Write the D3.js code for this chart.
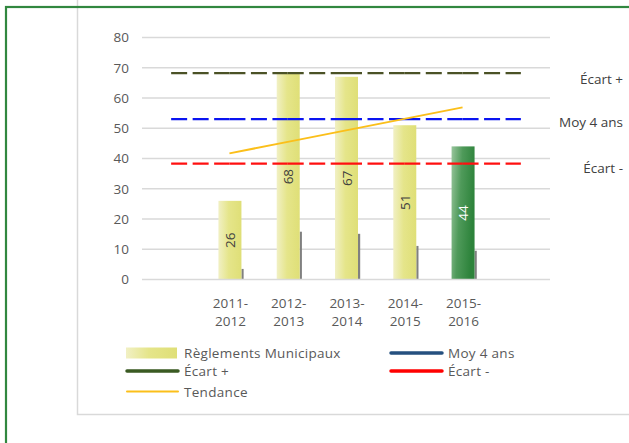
<!DOCTYPE html>
<html>
<head>
<meta charset="utf-8">
<script src="https://cdn.jsdelivr.net/npm/d3@7"></script>
<style>
  html, body { margin: 0; padding: 0; background: #fff; }
  svg { display: block; font-family: "Open Sans", sans-serif; }
</style>
</head>
<body>
<svg id="chart" width="629" height="443"></svg>
<script>
// ---- data ----
const categories = ["", "2011-2012", "2012-2013", "2013-2014", "2014-2015", "2015-2016", " "];
const barCategories = ["2011-2012", "2012-2013", "2013-2014", "2014-2015", "2015-2016"];
const reglements = [26, 68, 67, 51, 44];
const shadowValues = [3.5, 15.8, 15.1, 11.1, 9.5];
const ecartPlus = [68.2, 68.2, 68.2, 68.2, 68.2, 68.2, 68.2];
const moy4ans = [53, 53, 53, 53, 53, 53, 53];
const ecartMoins = [38.3, 38.3, 38.3, 38.3, 38.3, 38.3, 38.3];
const tendance = [41.7, 45.5, 49.3, 53.1, 56.9];
const yTicks = [0, 10, 20, 30, 40, 50, 60, 70, 80];
const legendLabels = ["Règlements Municipaux", "Moy 4 ans", "Écart +", "Écart -", "Tendance"];
const sideLabels = ["Écart +", "Moy 4 ans", "Écart -"];

const svg = d3.select("#chart");

// frames
svg.append("rect").attr("x", 77.5).attr("y", -5).attr("width", 600).attr("height", 419.5)
  .attr("fill", "#fff").attr("stroke", "#d9d9d9").attr("stroke-width", 1.5);
svg.append("rect").attr("x", 6).attr("y", 7).attr("width", 640).attr("height", 460)
  .attr("fill", "none").attr("stroke", "#31873f").attr("stroke-width", 2.2);

const x = d3.scaleBand().domain(categories).range([142, 550]).padding(0);
const xc = c => x(c) + x.bandwidth() / 2;
const y = d3.scaleLinear().domain([0, 80]).range([279.5, 37.5]);

// gridlines
svg.append("g").selectAll("line").data(yTicks.filter(t => t > 0)).join("line")
  .attr("x1", 142).attr("x2", 550)
  .attr("y1", d => y(d)).attr("y2", d => y(d))
  .attr("stroke", "#d9d9d9").attr("stroke-width", 1.5);

// y axis labels
const yAxis = d3.axisLeft(y).tickValues(yTicks).tickSize(0).tickPadding(0);
const ga = svg.append("g").attr("transform", "translate(129,0)").call(yAxis);
ga.select(".domain").remove();
ga.selectAll("text").attr("font-family", "Open Sans").attr("font-size", 13.5).attr("fill", "#595959");

// gradients
const defs = svg.append("defs");
const gy = defs.append("linearGradient").attr("id", "gYellow").attr("x1", 0).attr("x2", 1).attr("y1", 0).attr("y2", 0);
gy.append("stop").attr("offset", "0%").attr("stop-color", "#f1f0c4");
gy.append("stop").attr("offset", "45%").attr("stop-color", "#e5e58a");
gy.append("stop").attr("offset", "100%").attr("stop-color", "#dfdf77");
const gg = defs.append("linearGradient").attr("id", "gGreen").attr("x1", 0).attr("x2", 1).attr("y1", 0).attr("y2", 0.3);
gg.append("stop").attr("offset", "0%").attr("stop-color", "#98c59c");
gg.append("stop").attr("offset", "45%").attr("stop-color", "#4f9a5a");
gg.append("stop").attr("offset", "100%").attr("stop-color", "#2d833b");

const barW = 23;
const barOffset = -11;

// shadow (gray) thin bars
svg.append("g").selectAll("rect").data(shadowValues).join("rect")
  .attr("x", (d, i) => xc(barCategories[i]) + barOffset + barW)
  .attr("y", d => y(d))
  .attr("width", 2.2)
  .attr("height", d => y(0) - y(d))
  .attr("fill", "#808080");

// main bars
svg.append("g").selectAll("rect").data(reglements).join("rect")
  .attr("x", (d, i) => xc(barCategories[i]) + barOffset)
  .attr("y", d => y(d))
  .attr("width", barW)
  .attr("height", d => y(0) - y(d))
  .attr("fill", (d, i) => i === reglements.length - 1 ? "url(#gGreen)" : "url(#gYellow)");

// axis baseline
svg.append("line").attr("x1", 142).attr("x2", 550).attr("y1", y(0)).attr("y2", y(0))
  .attr("stroke", "#d9d9d9").attr("stroke-width", 1.5);

// bar value labels
svg.append("g").selectAll("text").data(reglements).join("text")
  .attr("transform", (d, i) => `translate(${xc(barCategories[i]) + barOffset + barW / 2},${(y(d) + y(0)) / 2}) rotate(-90)`)
  .attr("text-anchor", "middle").attr("dominant-baseline", "central")
  .attr("font-size", 13.5)
  .attr("fill", (d, i) => i === reglements.length - 1 ? "#ffffff" : "#404040")
  .text(d => d);

// x labels
const xl = svg.append("g").selectAll("text").data(barCategories).join("text")
  .attr("text-anchor", "middle").attr("font-size", 13.5).attr("fill", "#595959");
xl.append("tspan").attr("x", d => xc(d) + 1).attr("y", 308).text(d => d.split("-")[0] + "-");
xl.append("tspan").attr("x", d => xc(d) + 1).attr("y", 326).text(d => d.split("-")[1]);

// dashed reference lines (dash pattern restarts at each point, like Excel)
function dashedSeries(vals, color) {
  const pts = vals.map((v, i) => [xc(categories[i]), y(v)]);
  const segs = d3.pairs(pts);
  svg.append("g").selectAll("path").data(segs).join("path")
    .attr("d", d => d3.line()(d))
    .attr("fill", "none").attr("stroke", color).attr("stroke-width", 2.2)
    .attr("stroke-dasharray", "16,5.5");
}
dashedSeries(ecartPlus, "#4b5226");
dashedSeries(moy4ans, "#0a14f0");
dashedSeries(ecartMoins, "#ff1010");

// trend line
svg.append("path")
  .datum(tendance)
  .attr("d", d3.line().x((d, i) => xc(barCategories[i])).y(d => y(d)))
  .attr("fill", "none").attr("stroke", "#fbbf1a").attr("stroke-width", 2);

// side labels
const sideVals = [ecartPlus[6], moy4ans[6], ecartMoins[6]];
const sideDy = [6, 3, 4];
svg.append("g").selectAll("text").data(sideLabels).join("text")
  .attr("x", 623).attr("y", (d, i) => y(sideVals[i]) + sideDy[i])
  .attr("text-anchor", "end").attr("dominant-baseline", "central")
  .attr("font-size", 13.5).attr("fill", "#404040")
  .text(d => d);

// legend
const lg = svg.append("g");
const lgY = [353, 353, 371, 371, 391.5];
const lgX = [126, 390, 126, 390, 126];
const lgColor = [null, "#25507f", "#3a5a22", "#ff0000", "#fbbf1a"];
legendLabels.forEach((lab, i) => {
  if (i === 0) {
    lg.append("rect").attr("x", lgX[i]).attr("y", lgY[i] - 5.5).attr("width", 51).attr("height", 11)
      .attr("fill", "url(#gYellow)");
  } else {
    lg.append("line").attr("x1", lgX[i] + 1).attr("x2", lgX[i] + 52).attr("y1", lgY[i]).attr("y2", lgY[i])
      .attr("stroke", lgColor[i]).attr("stroke-width", i === 4 ? 2 : 3.5).attr("stroke-linecap", "round");
  }
  lg.append("text").attr("x", lgX[i] + 58).attr("y", lgY[i]).attr("dominant-baseline", "central")
    .attr("font-size", 13.5).attr("letter-spacing", 0.3).attr("fill", "#595959").text(lab);
});
</script>
</body>
</html>
